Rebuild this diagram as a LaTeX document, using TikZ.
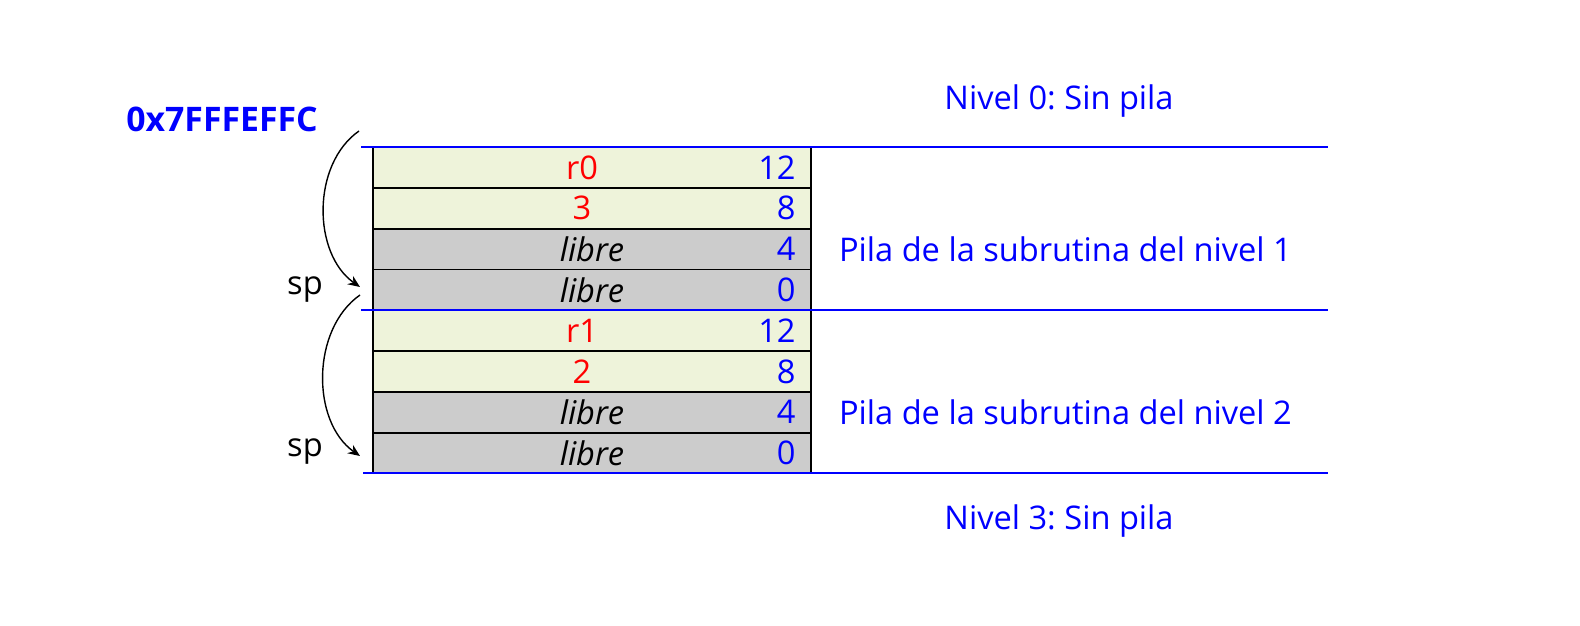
\documentclass[tikz,border=0pt]{standalone}
\usepackage{fontspec}
\setmainfont{Open Sans}
\usetikzlibrary{arrows.meta, positioning}

\definecolor{verdeclaro}{RGB}{238,243,218}
\definecolor{grislibre}{RGB}{204,204,204}
\newcommand{\tam}{\fontsize{16.3}{19}\selectfont}
\frenchspacing

\begin{document}
\begin{tikzpicture}[
        x=0.5pt, y=-0.5pt,
        >=Stealth,
        every node/.style={font=\tam},
        celda/.style={draw, line width=0.9pt, minimum width=219pt, minimum height=20.4pt, inner sep=0pt, outer sep=0pt},
        dato/.style={fill=verdeclaro, text=red, execute at begin node={\hspace*{-10pt}}},
        libre/.style={fill=grislibre, font=\tam\itshape},
        num/.style={anchor=east, text=blue, inner sep=0pt},
        azul/.style={text=blue},
        nivel/.style={draw=blue, line width=1.3pt},
        flecha/.style={->, line width=0.7pt, >={Stealth[length=6pt, width=5pt]}},
    ]
    \useasboundingbox (0,0) rectangle (1580,626);

    %% ===== Pila =====
    \node[celda, dato, anchor=north west] (c1) at (373,147) {r0};
    \node[num] at ([xshift=-7.5pt]c1.east) {12};
    \foreach \txt/\off/\tipo [count=\i from 2] in {3/8/dato, libre/4/libre, libre/0/libre, r1/12/dato, 2/8/dato, libre/4/libre, libre/0/libre} {
        \pgfmathtruncatemacro\ant{\i-1}
        \node[celda, \tipo, below=0pt of c\ant] (c\i) {\txt};
        \node[num] at ([xshift=-7.5pt]c\i.east) {\off};
    }

    %% ===== Limites de nivel =====
    \draw[nivel] (361,147) -- (1328,147);
    \draw[nivel] (361,310) -- (1328,310);
    \draw[nivel] (363,473) -- (1328,473);

    %% ===== Etiquetas =====
    \node[azul, font=\fontsize{16.9}{20}\selectfont\bfseries] (dir) at (222,119) {0x7FFFEFFC};
    \node[azul] (niv0) at (1059,101) {Nivel 0: Sin pila};
    \node[azul, right=10.5pt of c3] (pila1) {Pila de la subrutina del nivel 1};
    \node[azul, right=10.5pt of c7] (pila2) {Pila de la subrutina del nivel 2};
    \node[azul] (niv3) at (1059,521) {Nivel 3: Sin pila};

    %% ===== sp =====
    \node (sp1) at (305,290) {sp};
    \node (sp2) at (305,452) {sp};
    \coordinate (ini1) at (359,131);
    \coordinate (fin1) at (360,287);
    \coordinate (ini2) at (360,295);
    \coordinate (fin2) at (360,456);
    \draw[flecha] (ini1) to[out=215, in=145, looseness=0.95] (fin1);
    \draw[flecha] (ini2) to[out=215, in=145, looseness=0.95] (fin2);

\end{tikzpicture}
\end{document}
